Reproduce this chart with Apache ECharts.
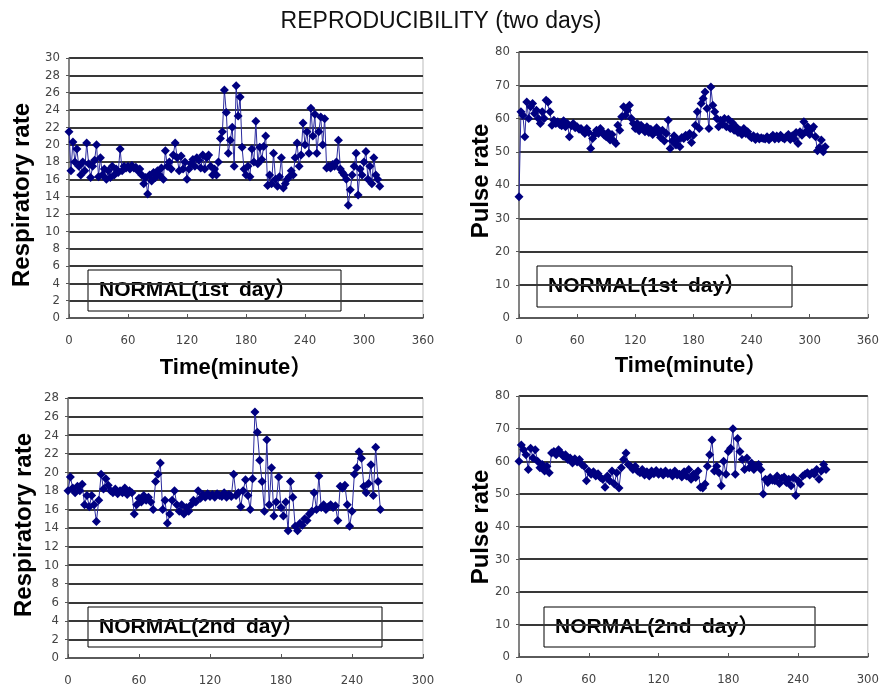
<!DOCTYPE html>
<html>
<head>
<meta charset="utf-8">
<script src="https://cdn.jsdelivr.net/npm/echarts@6/dist/echarts.min.js"></script>
<style>
  html, body { margin: 0; padding: 0; background: #fff; }
  #chart { width: 882px; height: 693px; }
</style>
</head>
<body>
<div id="chart"></div>
<script>
// readings every 2 minutes
const STEP = 2

const resp1 = [
	21.5, 17, 20.3, 18, 19.5, 17.5, 16.5, 18, 17, 20.2,
	17.8, 16.2, 17.5, 18.2, 20, 16.3, 18.5, 16.5, 17.2, 16,
	17, 16.2, 17.5, 16.5, 17.2, 16.8, 19.5, 17, 17.5, 17.3,
	17.5, 17.2, 17.6, 17.3, 17.4, 17, 17.2, 16.5, 15.5, 16.2,
	14.3, 16.5, 15.8, 16.8, 16.2, 17, 16.5, 17.3, 16, 19.3,
	17.5, 18, 17.2, 18.8, 20.2, 18.5, 17, 18.7, 17.2, 18,
	16, 17.2, 17.8, 18.3, 17.5, 18.5, 18.2, 17.3, 18.8, 17.2,
	18.5, 18.8, 17.5, 16.5, 17.2, 16.5, 18, 20.7, 21.5, 26.3,
	23.7, 19, 20.5, 22, 17.5, 26.8, 23.3, 25.5, 19.7, 17.2,
	16.5, 17.5, 16.3, 19.5, 18, 22.7, 17.8, 19.7, 18.3, 19.8,
	21, 15.3, 16.5, 15.5, 19, 16, 15.2, 16.3, 18.5, 15,
	15.5, 16, 16.3, 17, 16.5, 18.5, 20.2, 17.5, 18.8, 22.5,
	20, 21.5, 19, 24.2, 21, 23.5, 19, 21.5, 23.2, 20,
	23, 17.3, 17.5, 17.3, 17.7, 17.5, 18, 20.5, 17.2, 16.8,
	16.5, 16, 13, 14.8, 16.5, 17.5, 19, 14.2, 17.2, 16.5,
	18, 19.2, 16, 17.5, 15.5, 18.5, 16.5, 16, 15.2
]

const pulse1 = [
	36.5, 62, 61, 54.5, 65, 60, 63.5, 64.5, 61.5, 62.5,
	60, 58.5, 62, 60, 65.5, 65, 62, 58, 59.5, 58.5,
	59, 58.2, 57.8, 59.3, 57.5, 58.5, 54.5, 57.8, 58.5, 57.2,
	57.5, 56.8, 57, 56.2, 55.5, 57, 55.8, 51, 54, 55.2,
	56.5, 55.5, 57, 56, 55, 54.5, 55.8, 53.5, 55.2, 53.2,
	52.5, 58, 56.5, 60.5, 63.5, 61, 62.5, 64, 60, 58.5,
	57, 58.5, 56.3, 58, 57.2, 56, 57.5, 55.8, 56.8, 55.2,
	56, 57.2, 55.5, 54.3, 56.5, 53.2, 55.5, 59.5, 51, 53.2,
	54.8, 52, 53.5, 51.5, 54.3, 54, 55, 54.5, 55.5, 52.8,
	55, 58, 62, 57, 64.5, 66, 68, 63, 57, 69.5,
	64, 62, 60, 57.5, 59.5, 58.3, 60, 57.5, 59.8, 57,
	58.8, 56.5, 57.5, 55.8, 56.5, 55.2, 57, 55.5, 56, 54.7,
	54.2, 54.8, 53.7, 54.5, 53.8, 54.2, 54, 53.8, 54.5, 53.6,
	54.3, 55, 53.8, 54.7, 53.9, 55, 54.2, 53.8, 54.6, 55.2,
	53.7, 54.8, 53.9, 55.8, 52.5, 56, 55, 59, 56, 57.5,
	55.2, 56.8, 57.5, 54.5, 50.3, 51.3, 53.5, 50, 51.5
]

const resp2 = [
	18, 19.5, 18.3, 17.8, 18.5, 18, 18.7, 16.5, 17.5, 16.3,
	17.5, 16.5, 14.7, 17, 19.8, 18.2, 19.3, 18.6, 18, 17.8,
	18.2, 17.7, 18, 17.8, 18.3, 17.6, 18, 17.8, 15.5, 16.5,
	17.2, 16.8, 17.5, 17, 17.3, 16.8, 16, 19, 19.8, 21,
	16, 17, 14.5, 15.5, 17, 18, 16.5, 15.8, 16.5, 15.5,
	16.2, 15.8, 16.5, 17, 16.8, 18, 17.2, 17.6, 17.3, 17.7,
	17.4, 17.6, 17.3, 17.7, 17.5, 17.4, 17.8, 17.3, 17.6, 17.4,
	19.8, 17.5, 17.8, 16.3, 18, 19.2, 17.5, 16, 19.3, 26.5,
	24.3, 21.3, 19, 15.8, 23.5, 16.5, 20.5, 15.3, 16.8, 19.5,
	16.2, 15.3, 16.8, 13.7, 19, 17.3, 14.2, 13.7, 14.5, 14.3,
	15, 14.8, 15.5, 15.8, 17.8, 16, 19.6, 16.2, 16.5, 16,
	16.3, 16.5, 16.2, 16.4, 14.8, 18.5, 18.3, 18.6, 16.5, 14.2,
	15.8, 19.8, 20.5, 22.2, 21.5, 18.5, 17.8, 18.8, 20.8, 17.5,
	22.7, 19, 16
]

const pulse2 = [
	60, 65, 63.5, 62, 57.5, 64, 61, 63.5, 60, 58,
	59, 57, 58.5, 56.5, 62.5, 63, 62, 63.5, 62.5, 61.5,
	62, 60.5, 61, 59.5, 60.8, 59.8, 60.5, 59, 58.5, 54,
	57, 56, 56.8, 55.5, 56.2, 55, 54.5, 52, 55.5, 54,
	57, 53, 56.5, 51.8, 58, 60.5, 62.5, 59, 58.5, 57.5,
	58.5, 57, 56.5, 57.5, 55.8, 56.8, 55.5, 57, 56.2, 57.2,
	56, 56.8, 55.8, 57, 56.2, 56.5, 55.5, 57, 55.8, 56,
	55.2, 56.8, 55.5, 57.5, 54.5, 56, 55, 57, 52, 51.8,
	53, 58.5, 62, 66.5, 57, 58.5, 56.5, 52.5, 60, 56,
	63, 64, 70, 56, 67, 63, 60.5, 57.5, 61, 58,
	59.5, 57.5, 58.5, 59, 57.5, 50, 54.5, 53.5, 55, 54.2,
	54, 55.5, 53.2, 54.8, 55.2, 53.5, 54.5, 52.5, 55, 49.5,
	54, 53, 55.5, 56, 56.5, 55.8, 56.5, 56, 57.5, 54.5,
	57, 59, 57.5
]

const titleText = "REPRODUCIBILITY (two days)"
const panelLabels = ["NORMAL(1st\u2002day\uFF09", "NORMAL(1st\u2002day\uFF09", "NORMAL(2nd\u2002day\uFF09", "NORMAL(2nd\u2002day\uFF09"]
const yNames = ["Respiratory rate", "Pulse rate", "Respiratory rate", "Pulse rate"]
const xName = "Time(minute\uFF09"

const NAVY = "#000080"
const TICK_FONT = "'Liberation Sans Narrow', 'DejaVu Sans Condensed', sans-serif"
const BOLD_FONT = "'Liberation Sans', 'Noto Sans CJK JP', sans-serif"

const grids = [
	{ left: 69, top: 58, width: 354, height: 260 },
	{ left: 519, top: 52, width: 354, height: 266 },
	{ left: 68, top: 398, width: 355, height: 260 },
	{ left: 519, top: 396, width: 354, height: 261 }
]

const toPoints = (arr) => arr.map((v, i) => [i * STEP, v])

const xAxisFor = (gi, max) => ({
	type: "value", gridIndex: gi, min: 0, max: max, interval: 60,
	axisLine: { show: true, lineStyle: { color: "#666", width: 1.5 } },
	axisTick: { show: true, inside: true, length: 4, lineStyle: { color: "#555" } },
	splitLine: { show: false },
	axisLabel: { margin: 16, color: "#444", fontSize: 13, fontFamily: TICK_FONT }
})

const yAxisFor = (gi, max, interval) => ({
	type: "value", gridIndex: gi, min: 0, max: max, interval: interval,
	axisLine: { show: true, lineStyle: { color: "#666", width: 1.5 } },
	axisTick: { show: true, length: 3, lineStyle: { color: "#555" } },
	splitLine: { show: true, lineStyle: { color: "#383838", width: 2 } },
	axisLabel: { margin: 9, color: "#444", fontSize: 13, fontFamily: TICK_FONT }
})

const seriesFor = (gi, arr) => ({
	type: "line", xAxisIndex: gi, yAxisIndex: gi,
	data: toPoints(arr),
	symbol: "diamond", symbolSize: 9,
	itemStyle: { color: NAVY },
	lineStyle: { color: "#2b2b9e", width: 1 },
	emphasis: { disabled: true },
	z: 5
})

const labelBoxes = [
	{ x: 88, y: 270, w: 253, h: 41 },
	{ x: 537, y: 266, w: 255, h: 41 },
	{ x: 88, y: 607, w: 294, h: 40 },
	{ x: 544, y: 607, w: 271, h: 40 }
]

const boxGraphics = labelBoxes.map((b, i) => ({
	type: "group", z: 10,
	children: [
		{ type: "rect", shape: { x: b.x, y: b.y, width: b.w, height: b.h },
			style: { fill: "#fff", stroke: "#000", lineWidth: 1 } },
		{ type: "text", x: b.x + 11, y: b.y + b.h / 2,
			style: { text: panelLabels[i], font: "bold 21px " + BOLD_FONT, fill: "#000",
				textAlign: "left", textVerticalAlign: "middle" } }
	]
}))

const yNamePos = [[22, 195], [481, 181], [24, 525], [481, 527]]
const yNameGraphics = yNamePos.map((p, i) => ({
	type: "text", x: p[0], y: p[1], rotation: Math.PI / 2,
	style: { text: yNames[i], font: "bold 24px " + BOLD_FONT, fill: "#000",
		textAlign: "center", textVerticalAlign: "middle" }
}))

const xNameGraphics = [[236, 368], [691, 366]].map((p) => ({
	type: "text", x: p[0], y: p[1],
	style: { text: xName, font: "bold 22px " + BOLD_FONT, fill: "#000",
		textAlign: "center", textVerticalAlign: "middle" }
}))

const chart = echarts.init(document.getElementById("chart"))
chart.setOption({
	animation: false,
	backgroundColor: "#fff",
	title: {
		text: titleText, left: "center", top: 5,
		textStyle: { fontFamily: "'Liberation Sans', sans-serif", fontSize: 23, fontWeight: "normal", color: "#111" }
	},
	grid: grids.map((g) => ({ ...g, show: true, borderColor: "#bbb", borderWidth: 1, backgroundColor: "#fff" })),
	xAxis: [xAxisFor(0, 360), xAxisFor(1, 360), xAxisFor(2, 300), xAxisFor(3, 300)],
	yAxis: [yAxisFor(0, 30, 2), yAxisFor(1, 80, 10), yAxisFor(2, 28, 2), yAxisFor(3, 80, 10)],
	series: [seriesFor(0, resp1), seriesFor(1, pulse1), seriesFor(2, resp2), seriesFor(3, pulse2)],
	graphic: [...boxGraphics, ...yNameGraphics, ...xNameGraphics]
})
</script>
</body>
</html>
